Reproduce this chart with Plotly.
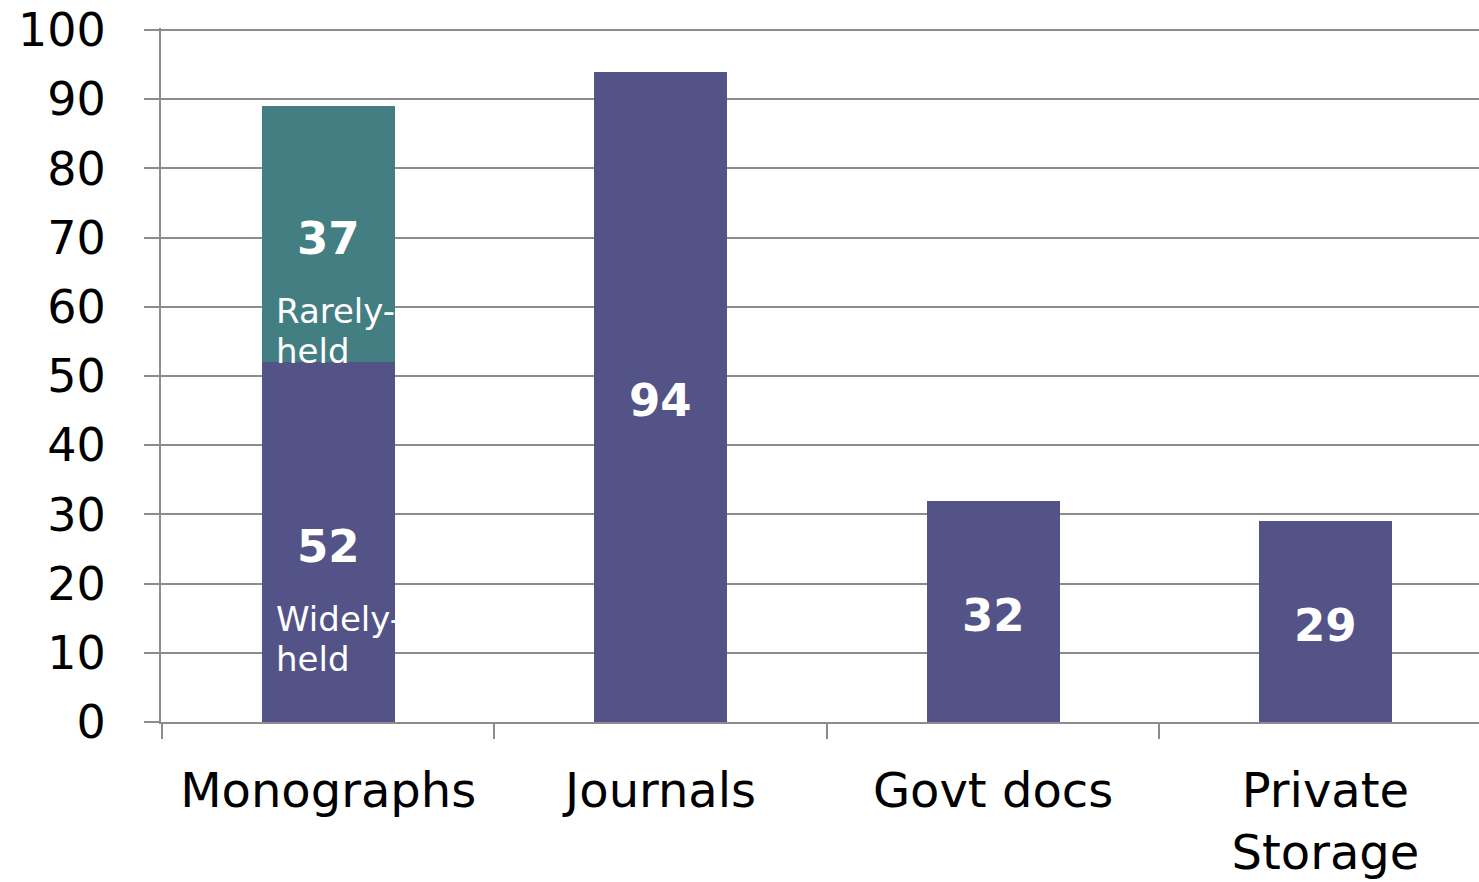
import plotly.graph_objects as go

categories = ["Monographs", "Journals", "Govt docs", "Private<br>Storage"]
base_values = [52, 94, 32, 29]
rare_values = [37, 0, 0, 0]
y_ticks = [0, 10, 20, 30, 40, 50, 60, 70, 80, 90, 100]

PURPLE = "#535388"
TEAL = "#437e82"
GRID = "#8c8c8c"
FONT = "DejaVu Sans"

fig = go.Figure()
fig.add_trace(go.Bar(x=list(range(4)), y=base_values, marker=dict(color=PURPLE, line=dict(width=0)),
                     width=0.4, hoverinfo="skip"))
fig.add_trace(go.Bar(x=list(range(4)), y=rare_values, marker=dict(color=TEAL, line=dict(width=0)),
                     width=0.4, hoverinfo="skip"))

annotations = []
for i, v in enumerate(base_values):
    annotations.append(dict(x=i, y=v / 2, text=f"<b>{v}</b>", showarrow=False, yshift=-4,
                            font=dict(family=FONT, size=45, color="white"),
                            xanchor="center", yanchor="middle"))
for i, v in enumerate(rare_values):
    if v:
        annotations.append(dict(x=i, y=base_values[i] + v / 2, text=f"<b>{v}</b>", showarrow=False,
                                yshift=-4, font=dict(family=FONT, size=45, color="white"),
                                xanchor="center", yanchor="middle"))

sub = [("Rarely-", "held", base_values[0] + rare_values[0] / 2),
       ("Widely-", "held", base_values[0] / 2)]
for l1, l2, yc in sub:
    annotations.append(dict(x=-0.2, y=yc, text=l1, showarrow=False, xanchor="left", yanchor="middle",
                            xshift=12, yshift=-77, font=dict(family=FONT, size=34, color="white")))
    annotations.append(dict(x=-0.2, y=yc, text=l2, showarrow=False, xanchor="left", yanchor="middle",
                            xshift=12, yshift=-117, font=dict(family=FONT, size=34, color="white")))

fig.update_layout(
    barmode="stack",
    width=1479, height=882,
    margin=dict(l=161, r=0, t=28, b=160, pad=0, autoexpand=False),
    paper_bgcolor="white", plot_bgcolor="white",
    showlegend=False,
    font=dict(family=FONT, size=46, color="black"),
    annotations=annotations,
    xaxis=dict(
        tickmode="array", tickvals=list(range(4)), ticktext=categories,
        range=[-0.503, 3.462], showgrid=False, showline=True, linecolor=GRID, linewidth=2,
        ticks="", ticklabelstandoff=25, automargin=False,
        tickfont=dict(family=FONT, size=48, color="black"), zeroline=False,
    ),
    yaxis=dict(
        range=[0, 100.3], tickmode="array", tickvals=y_ticks,
        showgrid=True, gridcolor=GRID, gridwidth=2,
        showline=True, linecolor=GRID, linewidth=2,
        ticks="outside", ticklen=15, tickwidth=2, tickcolor=GRID,
        ticklabelstandoff=29, automargin=False,
        tickfont=dict(family=FONT, size=46, color="black"), zeroline=False,
    ),
    xaxis2=dict(
        overlaying="x", matches="x", tickmode="array", tickvals=[-0.5, 0.5, 1.5, 2.5, 3.5],
        ticktext=["", "", "", "", ""], ticks="outside", ticklen=16, tickwidth=2, tickcolor=GRID,
        showgrid=False, showline=False, side="bottom", zeroline=False, automargin=False,
    ),
)
fig.add_trace(go.Scatter(x=[0], y=[0], xaxis="x2", mode="markers", marker=dict(opacity=0),
                         hoverinfo="skip", showlegend=False))

fig.write_html("out.html", config={"displayModeBar": False},
               post_script="document.body.style.margin='0px';document.body.style.overflow='hidden';")
